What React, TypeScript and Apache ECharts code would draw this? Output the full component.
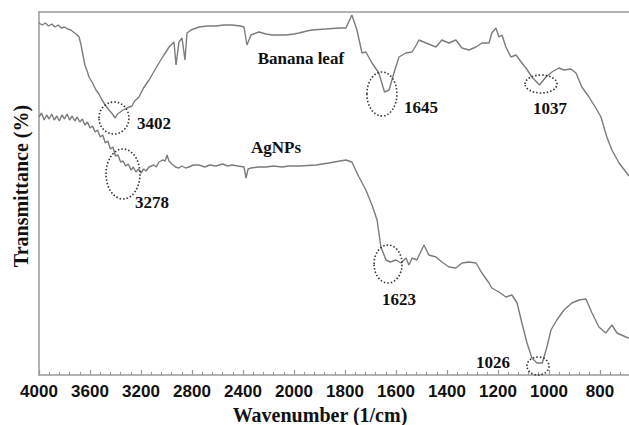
import React, { useEffect, useRef } from "react";
import * as echarts from "echarts";

// Banana leaf spectrum (wavenumber, transmittance in arbitrary units)
const bananaWn = [4000, 3975, 3950, 3925, 3900, 3875, 3850, 3825, 3800, 3775, 3750, 3720, 3700, 3686, 3670, 3663, 3640, 3620, 3608, 3580, 3553, 3530, 3506, 3480, 3451, 3430, 3402, 3385, 3373, 3340, 3310, 3271, 3250, 3216, 3180, 3137, 3100, 3059, 3020, 2980, 2941, 2925, 2902, 2878, 2855, 2839, 2808, 2745, 2680, 2612, 2550, 2486, 2420, 2392, 2369, 2337, 2275, 2220, 2173, 2120, 2063, 2000, 1980, 1950, 1929, 1875, 1824, 1796, 1773, 1753, 1733, 1718, 1694, 1667, 1645, 1627, 1608, 1588, 1561, 1537, 1520, 1510, 1482, 1443, 1420, 1392, 1365, 1341, 1314, 1286, 1263, 1235, 1224, 1208, 1196, 1184, 1169, 1149, 1129, 1106, 1090, 1067, 1037, 1012, 988, 961, 941, 914, 894, 871, 843, 816, 796, 773, 753, 725, 698, 686];
const bananaT = [352, 350, 352, 349, 351, 348, 350, 347, 348, 346, 345, 342, 340, 338, 330, 325, 310, 303, 298, 292, 285, 281, 275, 270, 265, 262, 257, 261, 262, 265, 267, 269, 274, 278, 287, 295, 303, 312, 320, 328, 333, 310, 333, 337, 315, 342, 345, 348, 349, 349, 350, 350, 349, 348, 330, 340, 343, 341, 340, 340, 340, 341, 342, 344, 345, 346, 347, 347, 360, 345, 322, 323, 312, 302, 283, 285, 302, 318, 322, 323, 330, 335, 332, 328, 335, 332, 335, 327, 325, 328, 332, 332, 342, 347, 338, 340, 328, 318, 320, 312, 307, 298, 290, 298, 303, 307, 305, 306, 302, 288, 278, 267, 258, 238, 225, 212, 203, 199];

// AgNPs spectrum
const agWn = [4000, 3980, 3960, 3940, 3920, 3900, 3880, 3860, 3840, 3820, 3800, 3780, 3760, 3740, 3720, 3700, 3680, 3660, 3640, 3620, 3600, 3580, 3560, 3540, 3520, 3500, 3480, 3460, 3440, 3420, 3400, 3380, 3360, 3340, 3320, 3300, 3278, 3260, 3240, 3220, 3200, 3180, 3160, 3137, 3100, 3080, 3059, 3030, 3010, 2996, 2980, 2957, 2930, 2902, 2880, 2850, 2824, 2790, 2745, 2700, 2660, 2612, 2560, 2520, 2486, 2440, 2392, 2376, 2360, 2337, 2280, 2220, 2160, 2094, 2040, 1980, 1914, 1863, 1820, 1796, 1773, 1745, 1718, 1694, 1674, 1659, 1639, 1623, 1600, 1580, 1561, 1549, 1537, 1518, 1490, 1471, 1443, 1420, 1392, 1365, 1341, 1314, 1286, 1263, 1235, 1224, 1196, 1169, 1145, 1125, 1106, 1086, 1067, 1047, 1026, 1008, 992, 969, 941, 910, 882, 855, 831, 804, 777, 753, 733, 698, 686];
const agT = [258, 262, 255, 260, 256, 261, 255, 259, 254, 260, 256, 261, 255, 259, 254, 258, 253, 256, 250, 253, 247, 249, 243, 245, 238, 240, 232, 234, 226, 228, 219, 220, 213, 214, 209, 211, 205, 208, 203, 206, 202, 206, 204, 208, 210, 208, 213, 215, 214, 220, 214, 211, 208, 207, 209, 207, 208, 210, 210, 208, 210, 209, 211, 209, 210, 209, 208, 197, 206, 207, 208, 208, 209, 208, 209, 209, 210, 212, 214, 215, 213, 198, 185, 170, 155, 128, 115, 113, 115, 112, 117, 110, 117, 115, 130, 120, 118, 113, 108, 107, 112, 113, 112, 102, 92, 87, 83, 78, 80, 72, 52, 32, 17, 12, 12, 28, 45, 55, 65, 72, 75, 76, 62, 48, 42, 50, 42, 38, 37];

const tickLabels = [4000, 3600, 3200, 2800, 2400, 2000, 1800, 1600, 1400, 1200, 1000, 800];

const peaks = [
  { label: "3402", wn: 3412, t: 257, rx: 15, ry: 16, dx: 40, dy: 5 },
  { label: "3278", wn: 3341, t: 201, rx: 17, ry: 25, dx: 29, dy: 28 },
  { label: "1645", wn: 1655, t: 281, rx: 15, ry: 22, dx: 39, dy: 13 },
  { label: "1037", wn: 1031, t: 291, rx: 16, ry: 9, dx: 9, dy: 24 },
  { label: "1623", wn: 1631, t: 111, rx: 14, ry: 19, dx: 11, dy: 35 },
  { label: "1026", wn: 1043, t: 9, rx: 11, ry: 9, dx: -45, dy: -4 },
];

const seriesLabels = [
  { text: "Banana leaf", wn: 1973, t: 317 },
  { text: "AgNPs", wn: 2141, t: 228 },
];

// piecewise wavenumber scale: 400 per unit above 2000, 200 per unit below
const pos = (wn: number) => (wn >= 2000 ? (4000 - wn) / 400 : 5 + (2000 - wn) / 200);

const serif = '"Liberation Serif", "Times New Roman", serif';
const sans = '"Liberation Sans", Arial, sans-serif';

export default function App() {
  const ref = useRef<HTMLDivElement>(null);
  useEffect(() => {
    if (!ref.current) return;
    const chart = echarts.init(ref.current, null, { renderer: "svg" });
    const lineColor = "#7c7c7c";
    const axisColor = "#9a9a9a";
    chart.setOption({
      animation: false,
      backgroundColor: "#ffffff",
      grid: { left: 39, right: 0, top: 12, bottom: 50 },
      xAxis: [
        {
          type: "value",
          min: 0,
          max: 11.57,
          interval: 1,
          axisLine: { show: true, lineStyle: { color: axisColor, width: 1.5 } },
          axisTick: { show: true, inside: true, length: 5, lineStyle: { color: axisColor, width: 1.2 } },
          minorTick: { show: true, splitNumber: 5, length: 3, lineStyle: { color: axisColor, width: 1 } },
          splitLine: { show: false },
          axisLabel: {
            margin: 8,
            color: "#111",
            fontFamily: sans,
            fontWeight: "bold",
            fontSize: 17,
            showMaxLabel: false,
            formatter: (v: number) => {
              const i = Math.round(v);
              return i >= 0 && i < tickLabels.length ? String(tickLabels[i]) : "";
            },
          },
        },
        {
          type: "value",
          position: "top",
          min: 0,
          max: 11.57,
          axisLine: { show: true, onZero: false, lineStyle: { color: axisColor, width: 1.5 } },
          axisTick: { show: false },
          axisLabel: { show: false },
          splitLine: { show: false },
        },
      ],
      yAxis: {
        type: "value",
        min: 0,
        max: 363,
        axisLine: { show: true, lineStyle: { color: axisColor, width: 1.5 } },
        axisTick: { show: false },
        axisLabel: { show: false },
        splitLine: { show: false },
      },
      series: [
        {
          name: "Banana leaf",
          type: "line",
          showSymbol: false,
          data: bananaWn.map((w, i) => [pos(w), bananaT[i]]),
          lineStyle: { color: lineColor, width: 1.4 },
        },
        {
          name: "AgNPs",
          type: "line",
          showSymbol: false,
          data: agWn.map((w, i) => [pos(w), agT[i]]),
          lineStyle: { color: lineColor, width: 1.4 },
        },
      ],
    });

    const toPx = (wn: number, t: number) =>
      chart.convertToPixel({ xAxisIndex: 0, yAxisIndex: 0 }, [pos(wn), t]) as number[];

    const graphics: any[] = [];
    peaks.forEach((p) => {
      const [cx, cy] = toPx(p.wn, p.t);
      graphics.push({
        type: "ellipse",
        shape: { cx, cy, rx: p.rx, ry: p.ry },
        style: { fill: "none", stroke: "#333", lineWidth: 1.6, lineDash: [1.5, 2] },
        z: 10,
      });
      graphics.push({
        type: "text",
        x: cx + p.dx,
        y: cy + p.dy,
        style: {
          text: p.label,
          font: `bold 17px ${serif}`,
          fill: "#111",
          textAlign: "center",
          textVerticalAlign: "middle",
          align: "center",
          verticalAlign: "middle",
        },
        z: 10,
      });
    });
    seriesLabels.forEach((s) => {
      const [x, y] = toPx(s.wn, s.t);
      graphics.push({
        type: "text",
        x,
        y,
        style: {
          text: s.text,
          font: `bold 17px ${serif}`,
          fill: "#111",
          textAlign: "center",
          textVerticalAlign: "middle",
          align: "center",
          verticalAlign: "middle",
        },
        z: 10,
      });
    });
    graphics.push({
      type: "text",
      x: 320,
      y: 415,
      style: {
        text: "Wavenumber (1/cm)",
        font: `bold 20px ${serif}`,
        fill: "#111",
        textAlign: "center",
        textVerticalAlign: "middle",
        align: "center",
        verticalAlign: "middle",
      },
    });
    graphics.push({
      type: "text",
      x: 21,
      y: 186,
      rotation: Math.PI / 2,
      style: {
        text: "Transmittance (%)",
        font: `bold 20px ${serif}`,
        fill: "#111",
        textAlign: "center",
        textVerticalAlign: "middle",
        align: "center",
        verticalAlign: "middle",
      },
    });
    chart.setOption({ graphic: graphics });

    return () => chart.dispose();
  }, []);
  return (
    <div
      ref={ref}
      style={{ position: "fixed", left: 0, top: 0, width: 629, height: 425, background: "#fff" }}
    />
  );
}
